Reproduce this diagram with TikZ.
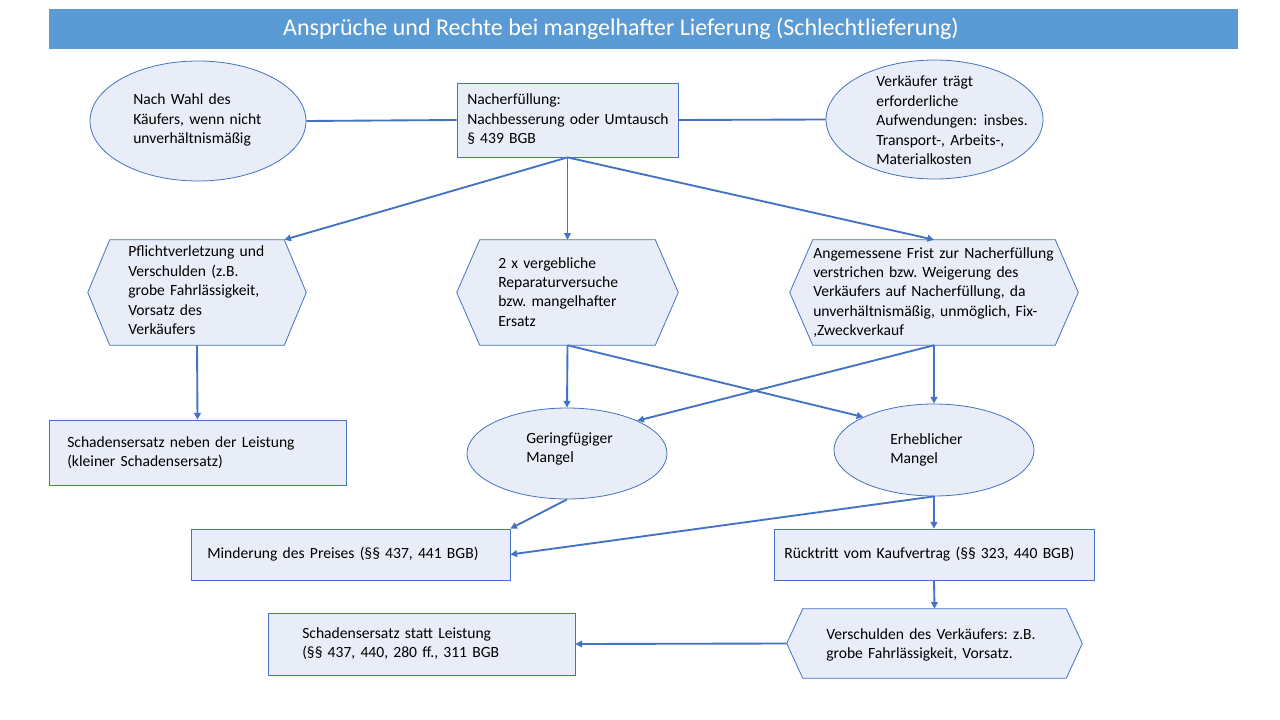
\documentclass[tikz,border=0pt]{standalone}
\usepackage{fontspec}
\setmainfont{Carlito}
\usetikzlibrary{arrows.meta,calc,shapes.geometric}
\definecolor{bar}{HTML}{5B9BD5}
\definecolor{fillc}{HTML}{E9EDF7}
\definecolor{edge}{HTML}{4472C4}
\frenchspacing
\begin{document}
\begin{tikzpicture}[x=0.75pt,y=-0.75pt,
 box/.style={draw=edge, fill=fillc, line width=0.6pt, rectangle, inner sep=0pt},
 ell/.style={draw=edge, fill=fillc, line width=0.6pt, ellipse, inner sep=0pt},
 hexbase/.style={rectangle, draw=none, inner sep=0pt},
 hexdraw/.style={draw=edge, fill=fillc, line width=0.6pt},
 txt/.style={anchor=base west, inner sep=0pt, align=left, text width=300pt, font=\fontsize{11.7}{14.6}\selectfont, text=black},
 arr/.style={draw=edge, line width=1.4pt, -{Triangle[length=5pt,width=5pt]}},
 conn/.style={draw=edge, line width=1.4pt}]
\useasboundingbox (0,0) rectangle (1280,720);
\fill[white] (0,0) rectangle (1280,720);
% title
\node[rectangle, fill=bar, inner sep=0pt, minimum width={1189*0.75pt}, minimum height={40*0.75pt}] (bar) at (643.5,29) {};
\node[inner sep=0pt, text=white, font=\fontsize{18}{21}\selectfont] (title) at (621,29) {Ansprüche und Rechte bei mangelhafter Lieferung (Schlechtlieferung)};
% shapes
\node[ell, minimum width={216*0.75pt}, minimum height={120*0.75pt}] (le) at (198,121) {};
\node[box, minimum width={221*0.75pt}, minimum height={74*0.75pt}] (n) at (567.5,120) {};
\node[ell, minimum width={217*0.75pt}, minimum height={119*0.75pt}] (re) at (934.5,119.5) {};
\node[hexbase, minimum width={218*0.75pt}, minimum height={105*0.75pt}] (h1) at (197,292.5) {};
\node[hexbase, minimum width={221*0.75pt}, minimum height={105*0.75pt}] (h2) at (567.5,292.5) {};
\node[hexbase, minimum width={288*0.75pt}, minimum height={105*0.75pt}] (h3) at (934,292.5) {};
\node[hexbase, minimum width={295*0.75pt}, minimum height={69*0.75pt}] (h4) at (934.5,643.5) {};
\path[hexdraw] (h1.west) -- ($(h1.north west)+(22,0)$) -- ($(h1.north east)+(-22,0)$) -- (h1.east) -- ($(h1.south east)+(-22,0)$) -- ($(h1.south west)+(22,0)$) -- cycle;
\path[hexdraw] (h2.west) -- ($(h2.north west)+(23,0)$) -- ($(h2.north east)+(-23,0)$) -- (h2.east) -- ($(h2.south east)+(-23,0)$) -- ($(h2.south west)+(23,0)$) -- cycle;
\path[hexdraw] (h3.west) -- ($(h3.north west)+(23,0)$) -- ($(h3.north east)+(-23,0)$) -- (h3.east) -- ($(h3.south east)+(-23,0)$) -- ($(h3.south west)+(23,0)$) -- cycle;
\path[hexdraw] (h4.west) -- ($(h4.north west)+(16,0)$) -- ($(h4.north east)+(-16,0)$) -- (h4.east) -- ($(h4.south east)+(-16,0)$) -- ($(h4.south west)+(16,0)$) -- cycle;
\node[box, minimum width={297*0.75pt}, minimum height={65*0.75pt}] (k) at (197.5,452.5) {};
\node[ell, minimum width={200*0.75pt}, minimum height={91*0.75pt}] (g) at (567,453.5) {};
\node[ell, minimum width={200*0.75pt}, minimum height={92*0.75pt}] (e) at (934,450) {};
\node[box, minimum width={319*0.75pt}, minimum height={51*0.75pt}] (m) at (350.5,554.5) {};
\node[box, minimum width={320*0.75pt}, minimum height={51*0.75pt}] (r) at (934,554.5) {};
\node[box, minimum width={307*0.75pt}, minimum height={62*0.75pt}] (s) at (421.5,644) {};
% texts
\node[txt] (tle) at (133,105) {Nach Wahl des\\Käufers, wenn nicht\\unverhältnismäßig};
\node[txt] (tn) at (467,105) {Nacherfüllung:\\Nachbesserung oder Umtausch\\§ 439 BGB};
\node[txt] (tre) at (876,87) {Verkäufer trägt\\erforderliche\\Aufwendungen:\hspace{5pt}insbes.\\Transport-, Arbeits-,\\Materialkosten};
\node[txt] (th1) at (128,257) {Pflichtverletzung und\\Verschulden (z.B.\\grobe Fahrlässigkeit,\\Vorsatz des\\Verkäufers};
\node[txt] (th2) at (498,268) {2 x vergebliche\\Reparaturversuche\\bzw. mangelhafter\\Ersatz};
\node[txt] (th3) at (813,258) {Angemessene Frist zur Nacherfüllung\\verstrichen bzw. Weigerung des\\Verkäufers auf Nacherfüllung, da\\unverhältnismäßig, unmöglich, Fix-\\,Zweckverkauf};
\node[txt] (tk) at (67,447) {Schadensersatz neben der Leistung\\(kleiner Schadensersatz)};
\node[txt] (tg) at (526,443) {Geringfügiger\\Mangel};
\node[txt] (te) at (890,444) {Erheblicher\\Mangel};
\node[txt] (tm) at (207,558) {Minderung des Preises (§§ 437, 441 BGB)};
\node[txt] (tr) at (784,558) {Rücktritt vom Kaufvertrag (§§ 323, 440 BGB)};
\node[txt] (th4) at (826,639) {Verschulden des Verkäufers: z.B.\\grobe Fahrlässigkeit, Vorsatz.};
\node[txt] (ts) at (302,638) {Schadensersatz statt Leistung\\(§§ 437, 440, 280 ff., 311 BGB};
% connectors
\draw[conn] (le.east) -- (n.west);
\draw[conn] (n.east) -- (re.west);
\draw[arr] (n.south) -- ($(h1.north east)+(-22,0)$);
\draw[arr] (n.south) -- (h2.north);
\draw[arr] (n.south) -- (h3.north);
\draw[arr] (h1.south) -- (k.north);
\draw[arr] (h2.south) -- (g.north);
\draw[arr] (h2.south) -- (e.155);
\draw[arr] (h3.south) -- (g.25);
\draw[arr] (h3.south) -- (e.north);
\draw[arr] (g.south) -- (m.north east);
\draw[arr] (e.south) -- (m.east);
\draw[arr] (e.south) -- (r.north);
\draw[arr] (r.south) -- (h4.north);
\draw[arr] (h4.west) -- (s.east);
\end{tikzpicture}
\end{document}
